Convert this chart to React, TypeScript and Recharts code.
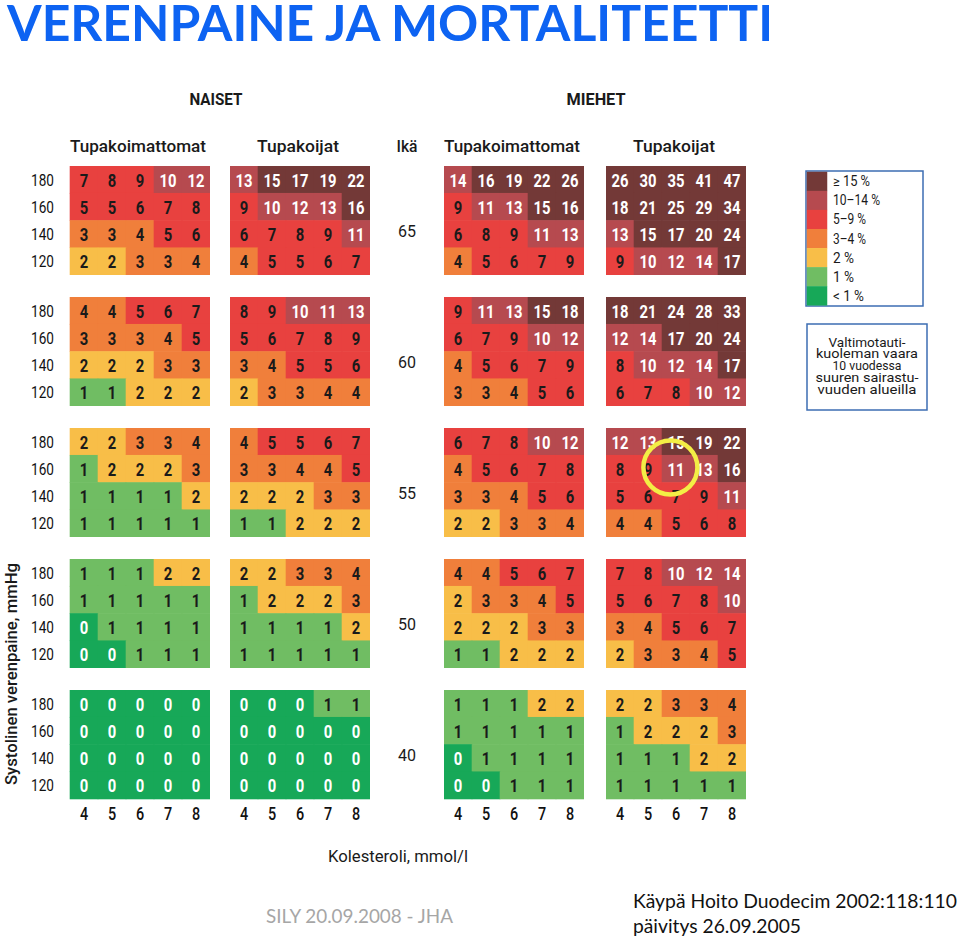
import React from 'react';
import { ScatterChart, Scatter, XAxis, YAxis, ReferenceDot } from 'recharts';

// ---------- data ----------
const cholesterolTicks = [4, 5, 6, 7, 8];
const sbpTicks = [180, 160, 140, 120];
const ageGroups = [65, 60, 55, 50, 40];

// each entry = one age group (65,60,55,50,40); rows = SBP 180,160,140,120; cols = cholesterol 4..8
const womenNonSmokers = [
  [[7, 8, 9, 10, 12], [5, 5, 6, 7, 8], [3, 3, 4, 5, 6], [2, 2, 3, 3, 4]],
  [[4, 4, 5, 6, 7], [3, 3, 3, 4, 5], [2, 2, 2, 3, 3], [1, 1, 2, 2, 2]],
  [[2, 2, 3, 3, 4], [1, 2, 2, 2, 3], [1, 1, 1, 1, 2], [1, 1, 1, 1, 1]],
  [[1, 1, 1, 2, 2], [1, 1, 1, 1, 1], [0, 1, 1, 1, 1], [0, 0, 1, 1, 1]],
  [[0, 0, 0, 0, 0], [0, 0, 0, 0, 0], [0, 0, 0, 0, 0], [0, 0, 0, 0, 0]],
];
const womenSmokers = [
  [[13, 15, 17, 19, 22], [9, 10, 12, 13, 16], [6, 7, 8, 9, 11], [4, 5, 5, 6, 7]],
  [[8, 9, 10, 11, 13], [5, 6, 7, 8, 9], [3, 4, 5, 5, 6], [2, 3, 3, 4, 4]],
  [[4, 5, 5, 6, 7], [3, 3, 4, 4, 5], [2, 2, 2, 3, 3], [1, 1, 2, 2, 2]],
  [[2, 2, 3, 3, 4], [1, 2, 2, 2, 3], [1, 1, 1, 1, 2], [1, 1, 1, 1, 1]],
  [[0, 0, 0, 1, 1], [0, 0, 0, 0, 0], [0, 0, 0, 0, 0], [0, 0, 0, 0, 0]],
];
const menNonSmokers = [
  [[14, 16, 19, 22, 26], [9, 11, 13, 15, 16], [6, 8, 9, 11, 13], [4, 5, 6, 7, 9]],
  [[9, 11, 13, 15, 18], [6, 7, 9, 10, 12], [4, 5, 6, 7, 9], [3, 3, 4, 5, 6]],
  [[6, 7, 8, 10, 12], [4, 5, 6, 7, 8], [3, 3, 4, 5, 6], [2, 2, 3, 3, 4]],
  [[4, 4, 5, 6, 7], [2, 3, 3, 4, 5], [2, 2, 2, 3, 3], [1, 1, 2, 2, 2]],
  [[1, 1, 1, 2, 2], [1, 1, 1, 1, 1], [0, 1, 1, 1, 1], [0, 0, 1, 1, 1]],
];
const menSmokers = [
  [[26, 30, 35, 41, 47], [18, 21, 25, 29, 34], [13, 15, 17, 20, 24], [9, 10, 12, 14, 17]],
  [[18, 21, 24, 28, 33], [12, 14, 17, 20, 24], [8, 10, 12, 14, 17], [6, 7, 8, 10, 12]],
  [[12, 13, 15, 19, 22], [8, 9, 11, 13, 16], [5, 6, 7, 9, 11], [4, 4, 5, 6, 8]],
  [[7, 8, 10, 12, 14], [5, 6, 7, 8, 10], [3, 4, 5, 6, 7], [2, 3, 3, 4, 5]],
  [[2, 2, 3, 3, 4], [1, 2, 2, 2, 3], [1, 1, 1, 2, 2], [1, 1, 1, 1, 1]],
];

const groupTitles = ['Tupakoimattomat', 'Tupakoijat', 'Tupakoimattomat', 'Tupakoijat'];
const sexTitles = ['NAISET', 'MIEHET'];
const bandLabels = ['≥ 15 %', '10–14 %', '5–9 %', '3–4 %', '2 %', '1 %', '< 1 %'];
const bandMins = [15, 10, 5, 3, 2, 1, 0];
const noteLines = ['Valtimotauti-', 'kuoleman vaara', '10 vuodessa', 'suuren sairastu-', 'vuuden alueilla'];

// ---------- styles / layout ----------
const BAND_COLORS = ['#733937', '#b64a4f', '#e8413f', '#f07f3b', '#f8be48', '#70bd63', '#17a858'];
const BAND_TEXT = ['#ffffff', '#ffffff', '#1a1a1a', '#1a1a1a', '#1a1a1a', '#1a1a1a', '#ffffff'];
const BAND_LABEL_W = [37, 47, 33, 33, 21, 21, 31];
const NOTE_W = [77, 102, 69, 103, 99];
const PANEL_LEFT = [70, 230, 444, 606];
const PANEL_TOP = [166, 297, 428, 559, 690];
const PW = 140;
const PH = 109;
const CW = PW / 5;
const CH = PH / 4;
const YW = 40;
const XH = 32;
const NARROW = 'Roboto, "Liberation Sans", sans-serif';

const bandOf = (v: number) => bandMins.findIndex((m) => v >= m);

const renderCell = (props: any) => {
  const { cx, cy, payload } = props;
  if (cx == null || cy == null) return <g />;
  const b = bandOf(payload.risk);
  return (
    <g>
      <rect x={cx - CW / 2 - 0.3} y={cy - CH / 2 - 0.3} width={CW + 0.6} height={CH + 0.6} fill={BAND_COLORS[b]} />
      <text
        transform={`translate(${cx},${cy + 7}) scale(0.78,1)`}
        textAnchor="middle"
        fontFamily={NARROW}
        fontWeight={700}
        fontSize={19}
        fill={BAND_TEXT[b]}
      >
        {payload.risk}
      </text>
    </g>
  );
};

const XTick = (props: any) => {
  const { x, y, payload } = props;
  return (
    <text transform={`translate(${x},${y + 13}) scale(0.8,1)`} textAnchor="middle" fontFamily={NARROW} fontWeight={500} fontSize={18} fill="#111">
      {payload.value}
    </text>
  );
};

const YTick = (props: any) => {
  const { x, y, payload } = props;
  return (
    <text transform={`translate(${x - 8},${y + 6}) scale(0.8,1)`} textAnchor="end" fontFamily={NARROW} fontWeight={400} fontSize={17} fill="#111">
      {payload.value}
    </text>
  );
};

type PanelProps = { values: number[][]; left: number; top: number; showY: boolean; showX: boolean; circle?: boolean };

function Panel({ values, left, top, showY, showX, circle }: PanelProps) {
  const data: { chol: number; sbp: number; risk: number }[] = [];
  sbpTicks.forEach((sbp, r) =>
    cholesterolTicks.forEach((chol, c) => data.push({ chol, sbp, risk: values[r][c] }))
  );
  const yw = showY ? YW : 0;
  const xh = showX ? XH : 0;
  return (
    <div style={{ position: 'absolute', left: left - yw, top }}>
      <ScatterChart width={PW + yw} height={PH + xh} margin={{ top: 0, right: 0, bottom: 0, left: 0 }}>
        <XAxis
          type="number"
          dataKey="chol"
          domain={[3.5, 8.5]}
          ticks={cholesterolTicks}
          interval={0}
          hide={!showX}
          height={XH}
          tickLine={false}
          axisLine={false}
          tick={<XTick />}
        />
        <YAxis
          type="number"
          dataKey="sbp"
          domain={[110, 190]}
          ticks={sbpTicks}
          interval={0}
          hide={!showY}
          width={YW}
          tickLine={false}
          axisLine={false}
          tick={<YTick />}
        />
        <Scatter data={data} shape={renderCell} isAnimationActive={false} />
        {circle && (
          <ReferenceDot x={5.8} y={161} r={27} fill="none" stroke="#f3ee45" strokeWidth={4.5} ifOverflow="visible" />
        )}
      </ScatterChart>
    </div>
  );
}

const groups = [womenNonSmokers, womenSmokers, menNonSmokers, menSmokers];

function T({ x, y, children, size = 16, w, weight = 400, fill = '#1a1a1a', family = NARROW, anchor = 'middle', rotate }: any) {
  return (
    <text
      x={x}
      y={y}
      fontSize={size}
      fontWeight={weight}
      fill={fill}
      fontFamily={family}
      textAnchor={anchor}
      textLength={w}
      lengthAdjust="spacingAndGlyphs"
      transform={rotate ? `rotate(${rotate} ${x} ${y})` : undefined}
    >
      {children}
    </text>
  );
}

export default function App() {
  return (
    <div style={{ position: 'absolute', left: 0, top: 0, width: 960, height: 940, background: '#fff', overflow: 'hidden' }}>
      <svg width={960} height={940} style={{ position: 'absolute', left: 0, top: 0 }}>
        <T x={7} y={41} size={50} w={766} weight={700} fill="#0d63f2" family="Lato, 'Open Sans', sans-serif" anchor="start">
          VERENPAINE JA MORTALITEETTI
        </T>
        <T x={216} y={105} size={17} w={53} weight={700}>{sexTitles[0]}</T>
        <T x={596} y={105} size={17} w={59} weight={700}>{sexTitles[1]}</T>
        {groupTitles.map((g, i) => (
          <T key={i} x={PANEL_LEFT[i] + PW / 2 - 2} y={152} size={17} w={i % 2 === 0 ? 136 : 82} weight={500}>
            {g}
          </T>
        ))}
        <T x={407} y={152} size={17} w={21} weight={500}>Ikä</T>
        {ageGroups.map((a, i) => (
          <T key={a} x={407} y={PANEL_TOP[i] + CH * 2.5 + 3} size={17} w={18}>
            {a}
          </T>
        ))}
        <T x={17} y={674} size={16} w={222} rotate={-90} weight={500}>Systolinen verenpaine, mmHg</T>
        <T x={398} y={862} size={16} w={140} weight={400}>Kolesteroli, mmol/l</T>

        {/* legend */}
        <rect x={806} y={171} width={117} height={135} fill="#fff" stroke="#3d6db3" strokeWidth={1.5} />
        {bandLabels.map((l, i) => (
          <g key={l}>
            <rect x={806.75} y={171.75 + i * (133.5 / 7)} width={20.5} height={133.5 / 7 + 0.3} fill={BAND_COLORS[i]} />
            <T x={833} y={171 + (i + 0.5) * (135 / 7) + 5} size={14} w={BAND_LABEL_W[i]} anchor="start">
              {l}
            </T>
          </g>
        ))}
        <rect x={807} y={324} width={120} height={86} fill="#fff" stroke="#3d6db3" strokeWidth={1.5} />
        {noteLines.map((l, i) => (
          <T key={l} x={867} y={346.5 + i * 11.9} size={13.5} w={NOTE_W[i]} weight={400}>
            {l}
          </T>
        ))}

        {/* footers */}
        <T x={266} y={923} size={20} w={187} fill="#a6a6a6" family="Lato, 'Open Sans', sans-serif" anchor="start">
          SILY 20.09.2008 - JHA
        </T>
        <T x={633} y={908} size={20} w={324} fill="#111" family="Lato, 'Open Sans', sans-serif" anchor="start">
          Käypä Hoito Duodecim 2002:118:110
        </T>
        <T x={633} y={933} size={20} w={168} fill="#111" family="Lato, 'Open Sans', sans-serif" anchor="start">
          päivitys 26.09.2005
        </T>
      </svg>
      {groups.map((g, gi) =>
        g.map((vals, ai) => (
          <Panel
            key={`${gi}-${ai}`}
            values={vals}
            left={PANEL_LEFT[gi]}
            top={PANEL_TOP[ai]}
            showY={gi === 0}
            showX={ai === ageGroups.length - 1}
            circle={gi === 3 && ai === 2}
          />
        ))
      )}
    </div>
  );
}
